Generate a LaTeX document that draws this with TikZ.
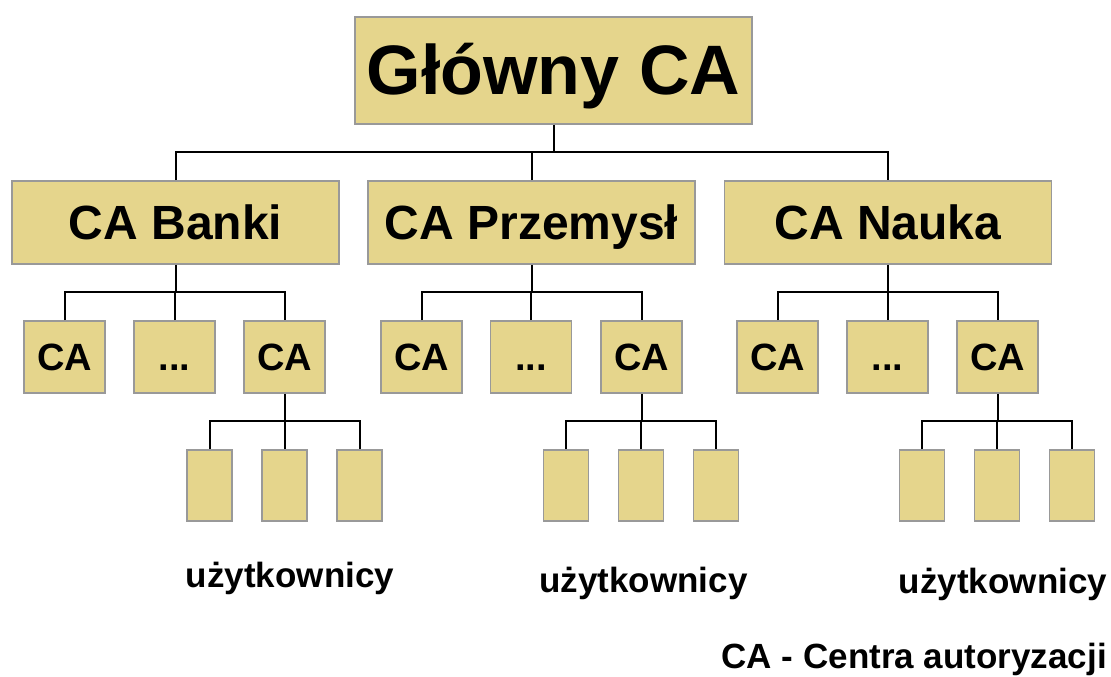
\documentclass[tikz,border=0pt]{standalone}
\usepackage{fontspec}
\setmainfont{Liberation Sans}
\definecolor{boxfill}{RGB}{229,213,140}
\definecolor{boxline}{RGB}{153,153,153}
\tikzset{
  box/.style={draw=boxline, line width=1.6pt, fill=boxfill, inner sep=0pt, text depth=0pt},
  rootbox/.style={box, minimum width=397pt, minimum height=107pt, text height=47pt,
    font=\fontsize{70}{84}\selectfont\bfseries},
  midbox/.style={box, minimum width=327pt, minimum height=83pt, text height=33pt,
    font=\fontsize{48}{58}\selectfont\bfseries},
  cabox/.style={box, minimum width=81pt, minimum height=72pt, text height=26pt,
    font=\fontsize{38}{46}\selectfont\bfseries},
  userbox/.style={box, minimum width=45pt, minimum height=71pt},
  lbl/.style={inner sep=0pt, anchor=base, font=\fontsize{35}{42}\selectfont\bfseries},
  conn/.style={draw=black, line width=2pt}
}
\begin{document}
\begin{tikzpicture}[x=1pt, y=-1pt]
\useasboundingbox (0,0) rectangle (1111,677);
% level 1
\node[rootbox] (root) at (553.5,70.5) {Główny CA};
% level 2
\node[midbox] (b1) at (175.5,222.5) {CA Banki};
\node[midbox] (b2) at (531.5,222.5) {CA Przemysł};
\node[midbox] (b3) at (888,222.5) {CA Nauka};
% level 3
\node[cabox] (c11) at (64.5,357) {CA};
\node[cabox] (c12) at (174.5,357) {...};
\node[cabox] (c13) at (284.5,357) {CA};
\node[cabox] (c21) at (421.5,357) {CA};
\node[cabox] (c22) at (531,357) {...};
\node[cabox] (c23) at (641.5,357) {CA};
\node[cabox] (c31) at (777.5,357) {CA};
\node[cabox] (c32) at (887.5,357) {...};
\node[cabox] (c33) at (997.5,357) {CA};
% level 4
\node[userbox] (u11) at (209.5,485.5) {};
\node[userbox] (u12) at (284.5,485.5) {};
\node[userbox] (u13) at (359.5,485.5) {};
\node[userbox] (u21) at (566,485.5) {};
\node[userbox] (u22) at (641,485.5) {};
\node[userbox] (u23) at (716,485.5) {};
\node[userbox] (u31) at (922,485.5) {};
\node[userbox] (u32) at (997,485.5) {};
\node[userbox] (u33) at (1072,485.5) {};
% labels
\node[lbl] (t1) at (290,587) {użytkownicy};
\node[lbl] (t2) at (643.5,592) {użytkownicy};
\node[lbl] (t3) at (1003,593) {użytkownicy};
\node[lbl, anchor=base east] (foot) at (1107,668.5) {CA - Centra autoryzacji};
% bus coordinates
\coordinate (busA) at (0,152);
\coordinate (busB) at (0,292);
\coordinate (busC) at (0,421);
% connectors level 1 -> 2
\draw[conn] (root.south) -- (root.south |- busA);
\draw[conn] (b1.north) -- (b1.north |- busA) -- (b3.north |- busA) -- (b3.north);
\draw[conn] (b2.north) -- (b2.north |- busA);
% level 2 -> 3
\foreach \p/\a/\b/\c in {b1/c11/c12/c13, b2/c21/c22/c23, b3/c31/c32/c33}{
  \draw[conn] (\p.south) -- (\p.south |- busB);
  \draw[conn] (\a.north) -- (\a.north |- busB) -- (\c.north |- busB) -- (\c.north);
  \draw[conn] (\b.north) -- (\b.north |- busB);
}
% level 3 -> 4
\foreach \p/\a/\b/\c in {c13/u11/u12/u13, c23/u21/u22/u23, c33/u31/u32/u33}{
  \draw[conn] (\p.south) -- (\p.south |- busC);
  \draw[conn] (\a.north) -- (\a.north |- busC) -- (\c.north |- busC) -- (\c.north);
  \draw[conn] (\b.north) -- (\b.north |- busC);
}
\end{tikzpicture}
\end{document}
